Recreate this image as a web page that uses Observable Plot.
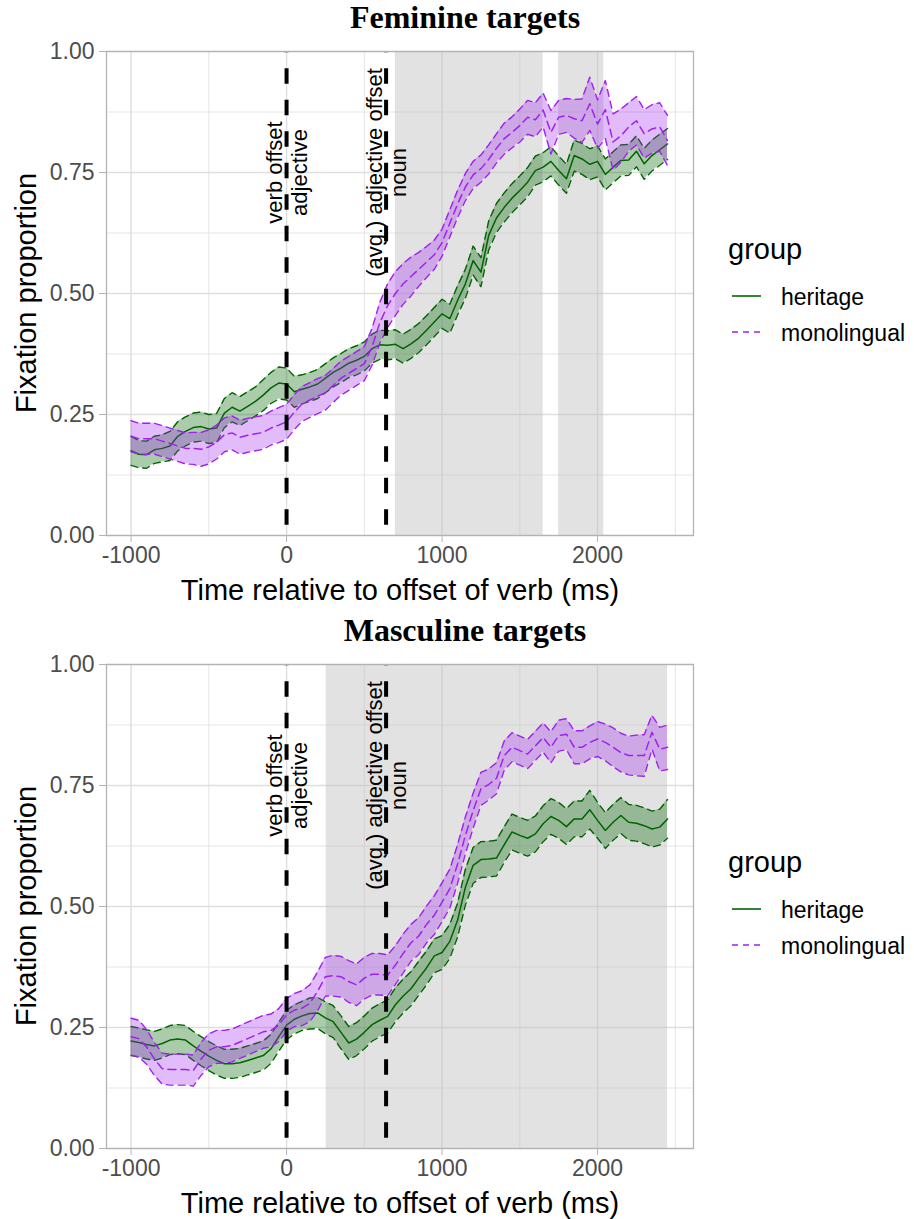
<!DOCTYPE html>
<html><head><meta charset="utf-8">
<script src="https://cdn.jsdelivr.net/npm/d3@7"></script>
<script src="https://cdn.jsdelivr.net/npm/@observablehq/plot@0.6"></script>
<style>
body{margin:0;background:#fff;}
#root{position:relative;width:914px;height:1219px;overflow:hidden;font-family:"Liberation Sans",Arial,sans-serif;}
#root > svg{position:absolute;left:0;}
#root svg g[aria-label*="axis"] text{fill:#4d4d4d;}
#overlay{position:absolute;left:0;top:0;pointer-events:none;}
</style></head><body><div id="root"></div>
<script>
// ---- data ----
const times = [
 -1000,-950,-900,-850,-800,-750,-700,-650,-600,-550,
 -500,-450,-400,-350,-300,-250,-200,-150,-100,-50,
 0,50,100,150,200,250,300,350,400,450,
 500,550,600,650,700,750,800,850,900,950,
 1000,1050,1100,1150,1200,1250,1300,1350,1400,1450,
 1500,1550,1600,1650,1700,1750,1800,1850,1900,1950,
 2000,2050,2100,2150,2200,2250,2300,2350,2400,2450];

const femHeritageMean = [
 .175,.168,.167,.177,.180,.185,.205,.215,.223,.225,
 .220,.222,.253,.265,.257,.267,.277,.290,.305,.315,
 .313,.297,.302,.307,.313,.325,.337,.346,.356,.362,
 .370,.386,.394,.393,.395,.386,.396,.408,.424,.441,
 .458,.448,.486,.520,.568,.544,.620,.656,.678,.697,
 .713,.730,.754,.761,.773,.754,.737,.785,.778,.767,
 .773,.746,.761,.775,.776,.794,.768,.785,.797,.809];
const femHeritageSE = [
 .030,.028,.028,.028,.028,.030,.030,.030,.030,.030,
 .030,.030,.030,.030,.030,.030,.030,.032,.032,.033,
 .033,.032,.030,.030,.030,.030,.030,.030,.030,.030,
 .030,.030,.030,.030,.030,.030,.030,.030,.030,.030,
 .030,.030,.030,.030,.030,.030,.030,.030,.030,.030,
 .030,.030,.030,.030,.030,.030,.030,.032,.032,.032,
 .032,.032,.032,.032,.032,.032,.032,.032,.032,.032];
const femMonoMean = [
 .205,.200,.200,.200,.195,.190,.185,.180,.180,.178,
 .183,.193,.208,.212,.203,.207,.210,.213,.222,.228,
 .235,.255,.272,.280,.288,.295,.310,.325,.335,.345,
 .355,.390,.440,.475,.500,.520,.535,.550,.565,.580,
 .605,.645,.685,.720,.745,.758,.777,.800,.820,.833,
 .847,.864,.859,.879,.833,.864,.868,.861,.857,.892,
 .850,.880,.813,.826,.844,.857,.830,.840,.844,.816];
const femMonoSE = [
 .032,.032,.032,.032,.032,.032,.032,.032,.033,.035,
 .035,.035,.035,.035,.035,.035,.035,.035,.035,.036,
 .036,.036,.036,.036,.036,.036,.035,.035,.035,.035,
 .035,.038,.042,.045,.045,.042,.040,.035,.032,.030,
 .028,.028,.028,.028,.028,.028,.030,.030,.032,.032,
 .034,.035,.035,.035,.045,.035,.035,.040,.045,.055,
 .050,.060,.058,.055,.050,.050,.050,.050,.050,.052];

const mascHeritageMean = [
 .222,.219,.215,.212,.217,.224,.226,.224,.212,.201,
 .191,.182,.175,.175,.177,.182,.187,.192,.206,.231,
 .255,.267,.274,.279,.280,.270,.262,.240,.218,.226,
 .240,.256,.265,.273,.297,.315,.330,.352,.373,.398,
 .405,.428,.472,.540,.585,.597,.598,.600,.628,.654,
 .647,.641,.650,.671,.686,.678,.665,.681,.681,.700,
 .678,.657,.674,.688,.674,.672,.667,.660,.664,.681];
const mascHeritageSE = [
 .030,.030,.030,.030,.030,.030,.030,.030,.030,.030,
 .030,.030,.030,.030,.030,.030,.030,.030,.030,.030,
 .030,.030,.030,.032,.032,.033,.033,.034,.034,.034,
 .034,.034,.034,.034,.035,.035,.035,.035,.035,.035,
 .035,.035,.035,.037,.037,.037,.037,.037,.037,.037,
 .037,.037,.037,.037,.037,.037,.037,.037,.037,.040,
 .037,.037,.037,.037,.037,.037,.037,.037,.037,.040];
const mascMonoMean = [
 .231,.227,.210,.185,.165,.163,.163,.163,.161,.185,
 .203,.210,.210,.213,.220,.227,.234,.241,.244,.255,
 .276,.286,.290,.300,.325,.355,.357,.355,.345,.338,
 .352,.360,.360,.358,.379,.403,.425,.439,.463,.482,
 .509,.537,.588,.647,.698,.743,.752,.765,.812,.829,
 .822,.815,.832,.849,.829,.853,.856,.829,.829,.839,
 .846,.839,.829,.818,.812,.812,.812,.860,.825,.829];
const mascMonoSE = [
 .038,.038,.036,.034,.032,.032,.032,.032,.032,.034,
 .034,.034,.034,.034,.034,.034,.034,.034,.034,.034,
 .034,.034,.036,.038,.040,.040,.042,.042,.043,.043,
 .043,.043,.043,.042,.040,.040,.038,.038,.038,.040,
 .040,.040,.040,.038,.036,.034,.032,.032,.030,.030,
 .030,.030,.030,.030,.032,.032,.032,.034,.034,.034,
 .036,.038,.040,.040,.040,.042,.043,.035,.045,.046];

const femRegions = [[700, 1650], [1750, 2040]];
const mascRegions = [[255, 2450]];

const eventTimes = [0, 640];
const eventLabels = ["verb offset\nadjective", "(avg.) adjective offset\nnoun"];
const labelY = 0.75;

const xTicks = [-1000, 0, 1000, 2000];
const xMinor = [-500, 500, 1500, 2500];
const yTicks = [0, 0.25, 0.5, 0.75, 1];
const yMinor = [0.125, 0.375, 0.625, 0.875];

const groups = ["heritage", "monolingual"];
const panelTitles = ["Feminine targets", "Masculine targets"];
const xTitle = "Time relative to offset of verb (ms)";
const yTitle = "Fixation proportion";
const legendTitle = "group";

const GREEN = "#006400", PURPLE = "#A020F0";

function makePanel(herM, herSE, monoM, monoSE, regions) {
  const H = times.map((t, i) => ({t, m: herM[i], lo: herM[i] - herSE[i], hi: herM[i] + herSE[i]}));
  const M = times.map((t, i) => ({t, m: monoM[i], lo: monoM[i] - monoSE[i], hi: monoM[i] + monoSE[i]}));
  const R = regions.map(([a, b]) => ({a, b, y1: 0, y2: 1}));
  const E = eventTimes.map((x, i) => ({x, y: labelY, label: eventLabels[i]}));
  return Plot.plot({
    width: 914, height: 615,
    marginTop: 51, marginBottom: 80, marginLeft: 106, marginRight: 221,
    style: {fontFamily: "Liberation Sans, Arial, sans-serif", fontSize: "23px", color: "#B3B3B3", background: "transparent", overflow: "visible"},
    x: {domain: [-1158, 2617], ticks: xTicks, tickFormat: d => String(d), tickSize: 7, tickPadding: 4, label: null},
    y: {domain: [0, 1], ticks: yTicks, tickFormat: d => d.toFixed(2), tickSize: 7, tickPadding: 5, label: null},
    marks: [
      Plot.ruleX(xMinor, {stroke: "#DEDEDE", strokeWidth: 0.8}),
      Plot.ruleY(yMinor, {stroke: "#DEDEDE", strokeWidth: 0.8}),
      Plot.ruleX(xTicks, {stroke: "#DEDEDE", strokeWidth: 1.4}),
      Plot.ruleY(yTicks, {stroke: "#DEDEDE", strokeWidth: 1.4}),
      Plot.rect(R, {x1: "a", x2: "b", y1: "y1", y2: "y2", fill: "#bebebe", fillOpacity: 0.45}),
      Plot.areaY(H, {x: "t", y1: "lo", y2: "hi", fill: GREEN, fillOpacity: 0.33}),
      Plot.line(H, {x: "t", y: "lo", stroke: GREEN, strokeWidth: 1.4, strokeDasharray: "7,5"}),
      Plot.line(H, {x: "t", y: "hi", stroke: GREEN, strokeWidth: 1.4, strokeDasharray: "7,5"}),
      Plot.line(H, {x: "t", y: "m", stroke: GREEN, strokeWidth: 1.5}),
      Plot.areaY(M, {x: "t", y1: "lo", y2: "hi", fill: PURPLE, fillOpacity: 0.3}),
      Plot.line(M, {x: "t", y: "lo", stroke: PURPLE, strokeWidth: 1.4, strokeDasharray: "7,5"}),
      Plot.line(M, {x: "t", y: "hi", stroke: PURPLE, strokeWidth: 1.4, strokeDasharray: "7,5"}),
      Plot.line(M, {x: "t", y: "m", stroke: PURPLE, strokeWidth: 1.5, strokeDasharray: "8,5"}),
      Plot.ruleX(E, {x: "x", stroke: "black", strokeWidth: 4, strokeDasharray: "15.5,16", strokeDashoffset: 14.3}),
      Plot.text(E, {x: "x", y: "y", text: "label", rotate: -90, fontSize: 22, lineHeight: 1.12, fill: "black", textAnchor: "middle"}),
      Plot.frame({stroke: "#B3B3B3", strokeWidth: 1.3})
    ]
  });
}

const root = document.getElementById("root");
const p1 = makePanel(femHeritageMean, femHeritageSE, femMonoMean, femMonoSE, femRegions);
p1.style.top = "0px";
root.appendChild(p1);
const p2 = makePanel(mascHeritageMean, mascHeritageSE, mascMonoMean, mascMonoSE, mascRegions);
p2.style.top = "613px";
root.appendChild(p2);

// titles, axis titles, legends
const ns = "http://www.w3.org/2000/svg";
const ov = document.createElementNS(ns, "svg");
ov.setAttribute("id", "overlay");
ov.setAttribute("width", 914); ov.setAttribute("height", 1219);
root.appendChild(ov);
function txt(x, y, s, size, opts = {}) {
  const t = document.createElementNS(ns, "text");
  t.setAttribute("x", x); t.setAttribute("y", y);
  t.setAttribute("font-size", size);
  t.setAttribute("font-family", opts.family || "Liberation Sans, Arial, sans-serif");
  if (opts.weight) t.setAttribute("font-weight", opts.weight);
  t.setAttribute("text-anchor", opts.anchor || "start");
  t.setAttribute("fill", opts.fill || "black");
  if (opts.transform) t.setAttribute("transform", opts.transform);
  t.textContent = s;
  ov.appendChild(t);
}
function ln(x1, y1, x2, y2, stroke, dash) {
  const l = document.createElementNS(ns, "line");
  l.setAttribute("x1", x1); l.setAttribute("y1", y1); l.setAttribute("x2", x2); l.setAttribute("y2", y2);
  l.setAttribute("stroke", stroke); l.setAttribute("stroke-width", 1.6);
  if (dash) l.setAttribute("stroke-dasharray", dash);
  ov.appendChild(l);
}
[0, 613].forEach((off, k) => {
  txt(465, 28 + off, panelTitles[k], 32, {family: "Liberation Serif, Times New Roman, serif", weight: "bold", anchor: "middle"});
  txt(0, 0, yTitle, 29, {anchor: "middle", transform: `translate(36,${293 + off}) rotate(-90)`});
  txt(400, 600 + off, xTitle, 29, {anchor: "middle"});
  txt(728, 259 + off, legendTitle, 29);
  ln(732, 296 + off, 761, 296 + off, GREEN, null);
  txt(781, 305 + off, groups[0], 23);
  ln(732, 332 + off, 761, 332 + off, PURPLE, "6,5");
  txt(781, 341 + off, groups[1], 23);
});
</script></body></html>
